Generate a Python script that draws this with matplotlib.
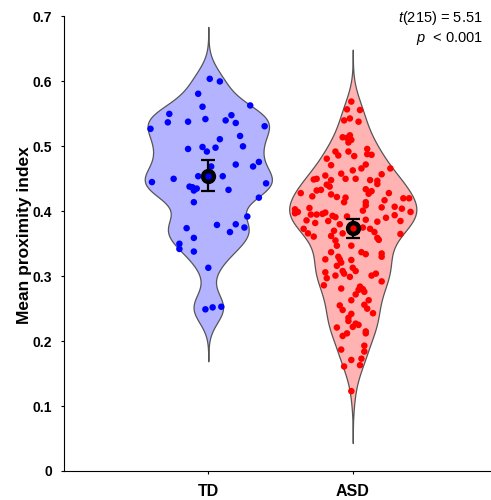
import matplotlib
matplotlib.use("Agg")
import matplotlib.pyplot as plt
import numpy as np

plt.rcParams['font.family'] = ['Liberation Sans', 'DejaVu Sans']
plt.rcParams['mathtext.fontset'] = 'custom'
plt.rcParams['mathtext.rm'] = 'Liberation Sans'
plt.rcParams['mathtext.it'] = 'Liberation Sans:italic'

# === data ===
groups = ["TD", "ASD"]

td_values = [0.604, 0.600, 0.581, 0.563, 0.561, 0.550, 0.548, 0.537, 0.538, 0.542,
             0.540, 0.536, 0.527, 0.531, 0.516, 0.511, 0.500, 0.496, 0.499, 0.492,
             0.498, 0.476, 0.469, 0.472, 0.469, 0.454, 0.454, 0.450, 0.445, 0.443,
             0.438, 0.437, 0.432, 0.435, 0.433, 0.421, 0.414, 0.392, 0.379, 0.380,
             0.368, 0.375, 0.374, 0.359, 0.350, 0.342, 0.338, 0.313, 0.249, 0.252,
             0.253]
td_jitter = [0.01, 0.08, -0.07, 0.29, -0.04, -0.27, 0.16, -0.28, -0.14, -0.02,
             0.12, 0.19, -0.40, 0.39, 0.22, 0.08, 0.24, -0.14, -0.04, -0.01,
             0.05, 0.35, 0.31, 0.19, 0.02, -0.07, 0.10, -0.24, -0.39, 0.40,
             -0.13, -0.11, -0.10, -0.08, 0.14, 0.35, -0.10, 0.27, 0.06, 0.19,
             0.15, 0.25, -0.15, -0.10, -0.20, -0.20, -0.10, 0.00, -0.02, 0.03,
             0.09]

asd_values = [0.569, 0.557, 0.556, 0.540, 0.543, 0.538, 0.514, 0.513, 0.517, 0.510,
              0.506, 0.496, 0.487, 0.488, 0.492, 0.486, 0.492, 0.485, 0.481, 0.471,
              0.466, 0.472, 0.463, 0.466, 0.457, 0.458, 0.455, 0.449, 0.450, 0.448,
              0.450, 0.450, 0.448, 0.447, 0.442, 0.441, 0.438, 0.432, 0.433, 0.434,
              0.427, 0.431, 0.428, 0.423, 0.426, 0.422, 0.421, 0.414, 0.428, 0.414,
              0.409, 0.401, 0.417, 0.420, 0.420, 0.407, 0.404, 0.399, 0.403, 0.399,
              0.397, 0.405, 0.395, 0.395, 0.396, 0.398, 0.393, 0.391, 0.392, 0.406,
              0.394, 0.385, 0.390, 0.384, 0.387, 0.386, 0.382, 0.385, 0.380, 0.373,
              0.375, 0.373, 0.368, 0.366, 0.361, 0.370, 0.366, 0.365, 0.362, 0.355,
              0.347, 0.347, 0.359, 0.356, 0.337, 0.326, 0.330, 0.326, 0.321, 0.316,
              0.325, 0.308, 0.304, 0.337, 0.334, 0.335, 0.330, 0.313, 0.308, 0.306,
              0.297, 0.301, 0.299, 0.301, 0.304, 0.292, 0.286, 0.281, 0.284, 0.279,
              0.280, 0.272, 0.276, 0.263, 0.263, 0.255, 0.248, 0.256, 0.250, 0.243,
              0.242, 0.236, 0.231, 0.221, 0.222, 0.227, 0.225, 0.215, 0.212, 0.212,
              0.208, 0.193, 0.184, 0.187, 0.173, 0.171, 0.163, 0.161, 0.123]
asd_jitter = [-0.01, -0.04, 0.05, -0.06, -0.02, 0.04, -0.07, -0.04, -0.02, -0.01,
              -0.03, 0.10, 0.13, 0.10, -0.12, -0.10, -0.03, 0.01, -0.18, -0.15,
              0.06, 0.09, 0.00, 0.26, 0.20, -0.08, -0.19, -0.27, -0.25, -0.15,
              -0.05, 0.02, 0.12, 0.17, 0.17, -0.18, -0.16, -0.25, -0.22, 0.09,
              0.11, 0.13, -0.36, -0.28, -0.15, -0.11, -0.05, -0.06, 0.25, 0.09,
              0.09, 0.07, 0.22, 0.35, 0.39, 0.29, 0.34, 0.40, -0.40, -0.38,
              -0.40, -0.30, -0.29, -0.25, -0.21, -0.19, -0.14, -0.12, -0.04, 0.20,
              0.29, 0.33, 0.23, 0.17, 0.09, -0.32, -0.26, -0.17, -0.09, -0.34,
              0.07, 0.12, 0.15, -0.31, -0.27, -0.13, -0.07, 0.33, -0.15, -0.12,
              -0.11, -0.01, 0.17, 0.18, -0.15, -0.19, -0.10, -0.09, -0.08, -0.11,
              -0.01, -0.07, -0.06, 0.06, 0.09, 0.20, 0.20, 0.00, 0.02, -0.19,
              -0.18, -0.12, -0.02, 0.13, 0.16, 0.20, -0.20, -0.08, 0.05, 0.04,
              0.07, 0.02, 0.08, -0.01, 0.11, -0.09, -0.07, 0.08, 0.10, 0.14,
              -0.01, -0.03, -0.03, -0.11, 0.00, 0.02, 0.04, 0.09, 0.09, -0.04,
              -0.07, 0.08, 0.08, -0.08, 0.06, -0.01, 0.05, -0.06, -0.01]

group_means = [0.455, 0.374]
group_sems = [0.024, 0.0145]

point_colors = ['#0000ff', '#ff0000']
fill_colors = ['#b3b3ff', '#ffb3b3']


def kde_outline(vals, bw, ext=0.08, n=300):
    # gaussian kernel density, scaled so the widest point is 1
    vals = np.asarray(vals)
    grid = np.linspace(vals.min() - ext, vals.max() + ext, n)
    dens = np.exp(-0.5 * ((grid[:, None] - vals[None, :]) / bw) ** 2).sum(axis=1)
    return grid, dens / dens.max()


fig = plt.figure(figsize=(4.91, 5.0), dpi=100)
ax = fig.add_axes([0.130, 0.058, 0.868, 0.909])

all_vals = [td_values, asd_values]
all_jit = [td_jitter, asd_jitter]
bws = [0.023, 0.026]
half_width = 0.44

for i in range(2):
    pos = i + 1
    grid, dens = kde_outline(all_vals[i], bws[i])
    ax.fill_betweenx(grid, pos - dens * half_width, pos + dens * half_width,
                     facecolor=fill_colors[i], edgecolor='#555555', linewidth=0.9, zorder=1)
    ax.scatter(pos + np.array(all_jit[i]), all_vals[i], s=22, color=point_colors[i],
               edgecolors='none', zorder=2)
    ax.errorbar(pos, group_means[i], yerr=group_sems[i], fmt='none', ecolor='black',
                elinewidth=1.6, capsize=5, capthick=1.6, zorder=3)
    ax.plot(pos, group_means[i], 'o', ms=10, color='black', zorder=4)
    ax.plot(pos, group_means[i], 'o', ms=3.5, color=point_colors[i], zorder=5)

ax.set_xlim(0, 2.95)
ax.set_ylim(0, 0.7)
ax.set_xticks([1, 2])
ax.set_xticklabels(groups, fontweight='bold', fontsize=11.5)
ax.set_yticks(np.arange(0, 0.71, 0.1))
ax.set_yticklabels(['0', '0.1', '0.2', '0.3', '0.4', '0.5', '0.6', '0.7'],
                   fontweight='bold', fontsize=10)
ax.tick_params(axis='both', direction='out', length=2.5, width=0.8)
ax.tick_params(axis='y', pad=6)
ax.tick_params(axis='x', pad=7)
ax.set_ylabel("Mean proximity index", fontweight='bold', fontsize=12.5)
ax.yaxis.set_label_coords(-0.075, 0.52)
ax.spines['top'].set_visible(False)
ax.spines['right'].set_visible(False)

fig.text(0.983, 0.982, r"$\it{t}$(215) = 5.51", ha='right', va='top', fontsize=10.5)
fig.text(0.983, 0.940, r"$\it{p}$  < 0.001", ha='right', va='top', fontsize=10.5)

fig.savefig("out.png", dpi=100)
